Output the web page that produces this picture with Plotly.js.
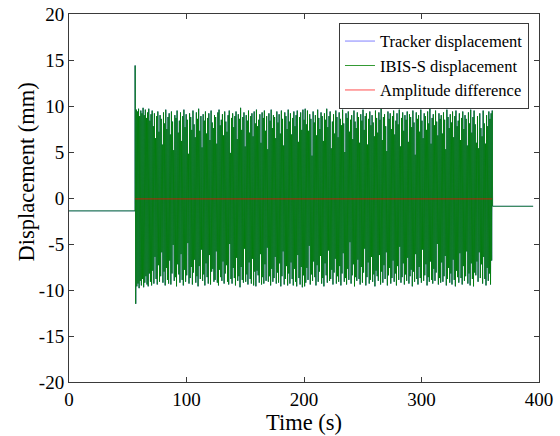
<!DOCTYPE html>
<html>
<head>
<meta charset="utf-8">
<script src="https://cdn.plot.ly/plotly-3.0.1.min.js"></script>
<style>html,body{margin:0;padding:0;background:#fff;}#chart{width:560px;height:436px;}</style>
</head>
<body>
<div id="chart"></div>
<script>
// ---- data ----
// flat segment before excitation (time s, displacement mm)
const preTime = [0, 56.2];
const preDisp = [-1.4, -1.4];
// flat segment after excitation
const postTime = [360.5, 395];
const postDisp = [-0.9, -0.9];
// excitation window (s)
const excStart = 56.3;
const excEnd = 360.2;
// first overshoot at start of excitation (mm)
const spikePeak = 14.4;
// successive positive peaks of IBIS-S displacement (mm)
const upperPeaks = [
 9.6, 9.4, 9.7, 8.9, 9.5, 9.2, 9.8, 9.0, 9.6, 8.7, 9.3, 9.7, 8.4, 9.1, 9.5,
 7.8, 9.2, 6.5, 8.9, 9.4, 7.2, 9.0, 8.6, 5.8, 9.3, 8.1, 9.6, 7.5, 8.8, 9.2,
 6.9, 9.4, 8.3, 5.2, 9.0, 8.7, 9.5, 7.1, 8.4, 9.3, 6.2, 8.9, 9.6, 7.7, 9.1,
 8.5, 4.8, 9.2, 8.8, 7.4, 9.5, 8.0, 6.6, 9.3, 8.6, 9.7, 7.3, 8.9, 5.5, 9.1,
 8.4, 9.4, 7.0, 8.7, 9.2, 6.3, 9.5, 8.2, 7.6, 9.0, 8.8, 5.9, 9.3, 9.6, 7.9,
 8.5, 9.1, 6.8, 9.4, 8.3, 7.2, 9.0, 9.5, 4.9, 8.7, 9.2, 7.7, 8.9, 9.4, 6.4,
 9.1, 8.6, 9.8, 7.4, 8.8, 9.3, 5.6, 9.0, 8.4, 9.5, 7.1, 8.9, 9.2, 6.7, 9.4,
 8.1, 9.6, 7.8, 8.5, 9.1, 6.0, 9.3, 8.7, 9.5, 7.3, 8.9, 5.3, 9.2, 8.4, 9.6,
 7.6, 9.0, 8.8, 6.5, 9.4, 8.2, 9.1, 7.0, 9.5, 8.6, 5.7, 9.3, 8.9, 7.5, 9.6,
 8.3, 9.2, 6.9, 8.7, 9.4, 7.8, 9.0, 9.5, 6.1, 8.8, 9.3, 7.4, 9.6, 8.5, 9.7,
 8.0, 9.5, 7.3, 9.1, 8.6, 4.6, 9.4, 8.2, 9.0, 6.8, 9.6, 8.7, 7.5, 9.3, 8.9,
 6.2, 9.2, 8.5, 9.7, 7.7, 8.9, 9.4, 5.4, 8.3, 9.1, 7.0, 9.5, 8.8, 6.6, 9.3,
 8.6, 7.9, 9.6, 8.1, 5.0, 9.2, 8.7, 9.4, 7.2, 8.5, 9.0, 6.4, 9.5, 8.3, 7.6,
 9.3, 8.8, 6.0, 9.1, 8.4, 9.6, 7.4, 8.9, 9.2, 5.8, 8.6, 9.4, 7.9, 9.0, 8.2,
 6.7, 9.5, 8.7, 7.1, 9.3, 8.5, 9.7, 6.3, 8.8, 9.1, 7.8, 5.1, 9.4, 8.6, 9.2,
 7.5, 8.9, 9.5, 6.9, 8.4, 9.2, 8.0, 9.6, 5.6, 8.7, 9.3, 7.3, 9.0, 8.5, 9.4,
 6.1, 9.1, 8.8, 7.7, 9.5, 8.2, 4.7, 9.3, 8.6, 9.0, 7.2, 9.6, 8.4, 6.5, 9.2,
 8.9, 7.4, 9.4, 8.1, 9.7, 5.9, 8.7, 9.1, 7.9, 9.5, 8.3, 6.8, 9.2, 8.6, 9.0,
 7.0, 9.3, 8.5, 5.3, 9.6, 8.8, 7.6, 9.1, 8.2, 9.4, 6.6, 8.9, 9.5, 7.8, 8.4,
 9.2, 6.3, 8.7, 9.4, 7.5, 9.0, 8.6, 5.7, 9.3, 8.1, 9.6, 7.1, 8.8, 9.5, 8.0,
 6.0, 8.9, 5.4, 9.2, 7.6, 6.7, 9.5, 8.1, 5.9, 9.0, 7.8, 9.4, 8.6, 9.2, 9.5
];
// successive negative peaks of IBIS-S displacement (mm)
const lowerPeaks = [
 -11.5, -9.6, -9.3, -9.8, -9.0, -9.5, -8.8, -9.7, -9.2, -8.5, -9.4, -9.6, -8.2, -9.1, -9.5,
 -7.9, -9.3, -6.4, -8.8, -9.4, -7.3, -9.1, -8.5, -5.9, -9.2, -8.0, -9.5, -7.6, -8.9, -9.3,
 -6.8, -9.4, -8.2, -5.1, -9.0, -8.6, -9.6, -7.2, -8.3, -9.2, -6.1, -8.9, -9.5, -7.8, -9.1,
 -8.4, -4.9, -9.3, -8.7, -7.5, -9.4, -8.1, -6.7, -9.2, -8.5, -9.6, -7.4, -8.8, -5.6, -9.0,
 -8.3, -9.5, -7.1, -8.6, -9.3, -6.2, -9.4, -8.0, -7.7, -9.1, -8.9, -5.8, -9.2, -9.5, -7.8,
 -8.6, -9.0, -6.9, -9.3, -8.2, -7.3, -9.1, -9.4, -5.0, -8.8, -9.3, -7.6, -8.7, -9.5, -6.5,
 -9.0, -8.5, -9.7, -7.5, -8.9, -9.2, -5.5, -9.1, -8.3, -9.4, -7.0, -8.8, -9.3, -6.6, -9.5,
 -8.0, -9.6, -7.9, -8.4, -9.2, -6.1, -9.4, -8.6, -9.3, -7.2, -9.0, -5.4, -9.1, -8.5, -9.5,
 -7.7, -9.1, -8.7, -6.4, -9.3, -8.1, -9.2, -7.1, -9.6, -8.5, -5.8, -9.4, -8.8, -7.4, -9.5,
 -8.2, -9.3, -7.0, -8.8, -9.5, -7.7, -9.1, -9.6, -6.2, -8.7, -9.4, -7.5, -9.7, -8.4, -9.6,
 -9.2, -7.6, -8.9, -5.2, -9.4, -8.3, -9.0, -6.9, -8.6, -9.5, -7.3, -9.1, -8.0, -6.3, -9.3,
 -8.7, -9.6, -7.1, -8.4, -9.2, -5.7, -9.0, -8.8, -7.8, -9.4, -8.1, -6.6, -9.3, -8.5, -9.1,
 -7.4, -9.5, -8.2, -6.0, -9.1, -8.7, -9.4, -7.7, -8.9, -4.8, -9.3, -8.4, -7.2, -9.6, -8.6,
 -9.0, -6.7, -8.8, -9.4, -7.5, -9.2, -8.1, -5.5, -9.5, -8.6, -7.0, -9.3, -8.9, -6.4, -9.1,
 -8.3, -9.6, -7.9, -8.5, -9.0, -6.2, -9.4, -8.0, -9.2, -7.3, -8.8, -5.9, -9.5, -8.4, -7.6,
 -9.3, -8.7, -6.8, -9.1, -8.2, -9.5, -7.4, -8.9, -5.3, -9.2, -8.6, -7.1, -9.4, -8.3, -9.0,
 -6.5, -9.3, -8.5, -7.8, -9.6, -8.0, -9.1, -6.1, -8.8, -9.4, -7.5, -8.7, -9.2, -5.6, -9.0,
 -8.4, -7.2, -9.5, -8.6, -9.1, -6.9, -8.9, -9.3, -7.7, -9.0, -8.1, -5.0, -9.4, -8.7, -9.2,
 -7.0, -9.1, -8.5, -6.3, -9.5, -8.8, -7.6, -9.2, -8.2, -9.4, -6.7, -8.9, -9.6, -7.9, -8.6,
 -9.2, -6.0, -8.7, -9.4, -7.4, -9.0, -8.5, -5.8, -9.3, -8.2, -9.5, -7.1, -8.8, -9.6, -8.1,
 -8.4, -6.9, -9.1, -5.9, -8.7, -7.2, -9.3, -6.4, -8.8, -9.5, -7.6, -9.0, -8.2, -9.4, -6.8
];
// amplitude difference (tracker - IBIS-S), mm
const diffTime = [56.3, 100, 150, 200, 250, 300, 360.2];
const diffDisp = [-0.1, -0.1, -0.1, -0.1, -0.1, -0.1, -0.1];
// tick labels
const xTickVals = [0, 100, 200, 300, 400];
const xTickText = ['0', '100', '200', '300', '400'];
const yTickVals = [-20, -15, -10, -5, 0, 5, 10, 15, 20];
const yTickText = ['-20', '-15', '-10', '-5', '0', '5', '10', '15', '20'];

// ---- assemble series ----
const oscDisp = [spikePeak];
const n = Math.min(upperPeaks.length, lowerPeaks.length);
for (let i = 0; i < n; i++) { oscDisp.push(lowerPeaks[i]); oscDisp.push(upperPeaks[i]); }
const oscTime = oscDisp.map((_, i) => excStart + (excEnd - excStart) * i / (oscDisp.length - 1));
const time = preTime.concat(oscTime, postTime);
const disp = preDisp.concat(oscDisp, postDisp);

const serif = 'Liberation Serif, Times New Roman, serif';
const axCol = '#3a3a3a';

const traces = [
  {x: time, y: disp, type: 'scatter', mode: 'lines', name: 'Tracker displacement',
   line: {color: 'rgb(0,0,255)', width: 0.5, simplify: false}},
  {x: time, y: disp, type: 'scatter', mode: 'lines', name: 'IBIS-S displacement',
   line: {color: 'rgb(0,128,0)', width: 0.8, simplify: false}},
  {x: diffTime, y: diffDisp, type: 'scatter', mode: 'lines', name: 'Amplitude difference',
   line: {color: 'rgb(255,0,0)', width: 0.7}}
];

const axisCommon = {
  showgrid: false, zeroline: false, showline: true, linecolor: axCol, linewidth: 1,
  mirror: 'ticks', ticks: 'inside', ticklen: 5, tickcolor: axCol, tickwidth: 1,
  tickfont: {family: serif, size: 19, color: '#000'}, tickmode: 'array'
};

const layout = {
  width: 560, height: 436,
  margin: {l: 69, r: 21, t: 14, b: 54},
  paper_bgcolor: '#fff', plot_bgcolor: '#fff',
  font: {family: serif, color: '#000'},
  showlegend: true,
  legend: {x: 0.9787, xanchor: 'right', y: 0.976, yanchor: 'top',
    bgcolor: '#fff', bordercolor: axCol, borderwidth: 1,
    font: {family: serif, size: 16.5, color: '#000'}},
  xaxis: Object.assign({}, axisCommon, {range: [0, 400], tickvals: xTickVals, ticktext: xTickText,
    title: {text: 'Time (s)', font: {family: serif, size: 22.5, color: '#000'}, standoff: 2}}),
  yaxis: Object.assign({}, axisCommon, {range: [-20, 20], tickvals: yTickVals, ticktext: yTickText}),
  annotations: [{text: 'Displacement (mm)', textangle: -90, xref: 'paper', yref: 'paper',
    x: -0.0894, y: 0.572, xanchor: 'center', yanchor: 'middle', showarrow: false,
    font: {family: serif, size: 22.5, color: '#000'}}]
};

Plotly.newPlot('chart', traces, layout, {displayModeBar: false, staticPlot: true});
</script>
</body>
</html>
